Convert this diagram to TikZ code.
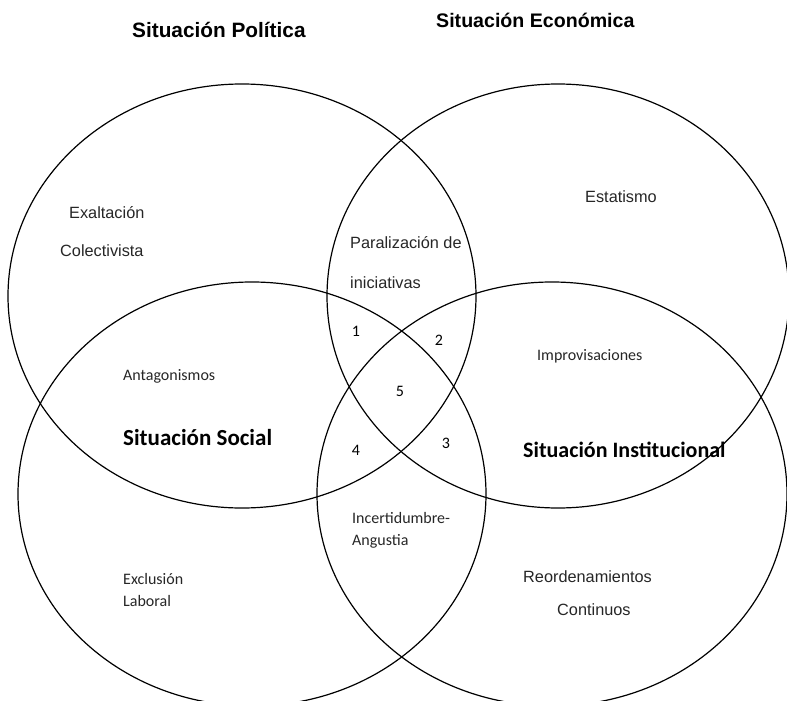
\documentclass[tikz,border=0pt]{standalone}
\usepackage{fontspec}
\setmainfont{Liberation Sans}
\newfontfamily\calfont{Carlito}
\begin{document}
\begin{tikzpicture}[x=1pt,y=-1pt,
  ring/.style={line width=1.2pt},
  title/.style={font=\fontsize{20.8}{23}\selectfont\bfseries, inner sep=0pt, anchor=west},
  lbl/.style={font=\fontsize{16.3}{18}\selectfont, text=black!85, inner sep=0pt, anchor=west},
  clbl/.style={font=\calfont\fontsize{16}{18}\selectfont, text=black!85, inner sep=0pt, anchor=west},
  ctitle/.style={font=\calfont\fontsize{22.5}{25}\selectfont\bfseries, inner sep=0pt, anchor=west},
  num/.style={font=\calfont\fontsize{16}{18}\selectfont, inner sep=0pt}]
\useasboundingbox (0,0) rectangle (787,701);
% the four overlapping spheres
\draw[ring] (242,296) ellipse [x radius=234, y radius=212];
\draw[ring] (558,296) ellipse [x radius=231, y radius=212];
\draw[ring] (252,494) ellipse [x radius=234, y radius=212];
\draw[ring] (552,494) ellipse [x radius=235, y radius=212];
% headings
\node[title] (pol) at (132,30) {Situación Política};
\node[title, font=\fontsize{19.6}{22}\selectfont\bfseries] (eco) at (436,20) {Situación Económica};
\node[ctitle, font=\calfont\fontsize{23}{26}\selectfont\bfseries] (soc) at (123,438) {Situación Social};
\node[ctitle, font=\calfont\fontsize{22}{25}\selectfont\bfseries] (ins) at (523,450) {Situación Institucional};
% region labels
\node[lbl] (exa) at (69,213) {Exaltación};
\node[lbl] (col) at (60,251) {Colectivista};
\node[lbl] (par) at (350,243) {Paralización de};
\node[lbl] (ini) at (350,283) {iniciativas};
\node[lbl] (est) at (585,197) {Estatismo};
\node[clbl] (ant) at (123,376) {Antagonismos};
\node[clbl] (imp) at (537,356) {Improvisaciones};
\node[clbl] (inc) at (352,518) {Incertidumbre-};
\node[clbl] (ang) at (352,541) {Angustia};
\node[clbl] (exc) at (123,579) {Exclusión};
\node[clbl] (lab) at (123,601) {Laboral};
\node[lbl] (reo) at (523,577) {Reordenamientos};
\node[lbl] (con) at (557,610) {Continuos};
% intersection numbers
\node[num] (n1) at (356,331) {1};
\node[num] (n2) at (439,340) {2};
\node[num] (n5) at (400,391) {5};
\node[num] (n4) at (356,450) {4};
\node[num] (n3) at (446,443) {3};
\end{tikzpicture}
\end{document}
